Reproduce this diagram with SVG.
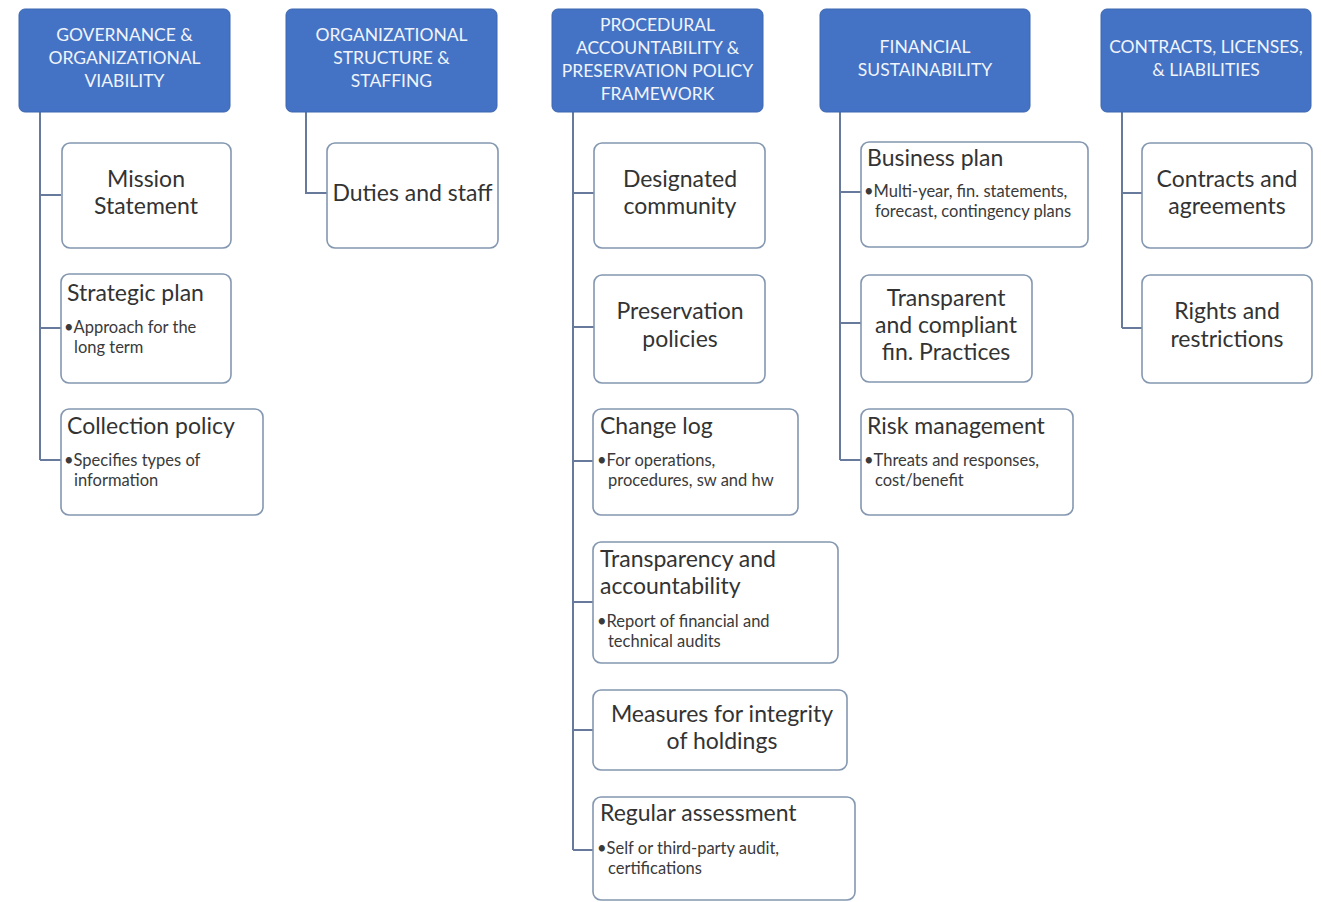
<svg xmlns="http://www.w3.org/2000/svg" width="1322" height="902" viewBox="0 0 1322 902">
<style>
.hdr{fill:#4472C4;stroke:#3d66b0;stroke-width:1}
.box{fill:#fff;stroke:#8497b0;stroke-width:1.6}
.ht{font-family:Lato,"Open Sans",sans-serif;font-size:17.5px;fill:#f0f4fb;text-anchor:middle}
.t{font-family:Lato,"Open Sans",sans-serif;font-size:23px;fill:#333}
.c{text-anchor:middle}
.b{font-family:Lato,"Open Sans",sans-serif;font-size:16.5px;fill:#3a3a3a}
.ln{fill:none;stroke:#687a9c;stroke-width:2}
</style>
<rect width="1322" height="902" fill="#fff"/>
<g id="connectors">
<path class="ln" d="M40 112V460M40 195H61M40 328H61M40 460H61"/>
<path class="ln" d="M306 112V193H327"/>
<path class="ln" d="M573 112V850M573 193H594M573 327H594M573 461H593M573 602H593M573 730H593M573 850H593"/>
<path class="ln" d="M840 112V460M840 192H861M840 323H861M840 460H861"/>
<path class="ln" d="M1122 112V328M1122 193H1142M1122 328H1142"/>
</g>
<g id="h1"><rect class="hdr" x="19" y="9" width="211" height="103" rx="6"/>
<text class="ht" x="124.5" y="41">GOVERNANCE &amp;</text><text class="ht" x="124.5" y="64">ORGANIZATIONAL</text><text class="ht" x="124.5" y="87">VIABILITY</text></g>
<g id="h2"><rect class="hdr" x="286" y="9" width="211" height="103" rx="6"/>
<text class="ht" x="391.5" y="41">ORGANIZATIONAL</text><text class="ht" x="391.5" y="64">STRUCTURE &amp;</text><text class="ht" x="391.5" y="87">STAFFING</text></g>
<g id="h3"><rect class="hdr" x="552" y="9" width="211" height="103" rx="6"/>
<text class="ht" x="657.5" y="31">PROCEDURAL</text><text class="ht" x="657.5" y="54">ACCOUNTABILITY &amp;</text><text class="ht" x="657.5" y="77">PRESERVATION POLICY</text><text class="ht" x="657.5" y="100">FRAMEWORK</text></g>
<g id="h4"><rect class="hdr" x="820" y="9" width="210" height="103" rx="6"/>
<text class="ht" x="925" y="53">FINANCIAL</text><text class="ht" x="925" y="76">SUSTAINABILITY</text></g>
<g id="h5"><rect class="hdr" x="1101" y="9" width="210" height="103" rx="6"/>
<text class="ht" x="1206" y="53">CONTRACTS, LICENSES,</text><text class="ht" x="1206" y="76">&amp; LIABILITIES</text></g>

<g id="mission"><rect class="box" x="62" y="143" width="169" height="105" rx="8"/>
<text class="t c" x="146" y="187">Mission</text><text class="t c" x="146" y="214">Statement</text></g>
<g id="strategic"><rect class="box" x="61" y="274" width="170" height="109" rx="8"/>
<text class="t" x="67" y="301">Strategic plan</text>
<text class="b" x="64" y="333">•Approach for the</text><text class="b" x="74" y="353">long term</text></g>
<g id="collection"><rect class="box" x="61" y="409" width="202" height="106" rx="8"/>
<text class="t" x="67" y="434">Collection policy</text>
<text class="b" x="64" y="466">•Specifies types of</text><text class="b" x="74" y="486">information</text></g>

<g id="duties"><rect class="box" x="327" y="143" width="171" height="105" rx="8"/>
<text class="t c" x="412.5" y="201">Duties and staff</text></g>

<g id="designated"><rect class="box" x="594" y="143" width="171" height="105" rx="8"/>
<text class="t c" x="680" y="187">Designated</text><text class="t c" x="680" y="214">community</text></g>
<g id="preservation"><rect class="box" x="594" y="275" width="171" height="108" rx="8"/>
<text class="t c" x="680" y="319">Preservation</text><text class="t c" x="680" y="347">policies</text></g>
<g id="changelog"><rect class="box" x="593" y="409" width="205" height="106" rx="8"/>
<text class="t" x="600" y="434">Change log</text>
<text class="b" x="597" y="466">•For operations,</text><text class="b" x="608" y="486">procedures, sw and hw</text></g>
<g id="transparency"><rect class="box" x="593" y="542" width="245" height="121" rx="8"/>
<text class="t" x="600" y="567">Transparency and</text><text class="t" x="600" y="594">accountability</text>
<text class="b" x="597" y="627">•Report of financial and</text><text class="b" x="608" y="647">technical audits</text></g>
<g id="measures"><rect class="box" x="593" y="690" width="254" height="80" rx="8"/>
<text class="t c" x="722" y="722">Measures for integrity</text><text class="t c" x="722" y="749">of holdings</text></g>
<g id="regular"><rect class="box" x="593" y="797" width="262" height="103" rx="8"/>
<text class="t" x="600" y="821">Regular assessment</text>
<text class="b" x="597" y="854">•Self or third-party audit,</text><text class="b" x="608" y="874">certifications</text></g>

<g id="business"><rect class="box" x="861" y="142" width="227" height="105" rx="8"/>
<text class="t" x="867" y="166">Business plan</text>
<text class="b" x="864" y="197">•Multi-year, fin. statements,</text><text class="b" x="875" y="217">forecast, contingency plans</text></g>
<g id="transparent"><rect class="box" x="861" y="275" width="171" height="107" rx="8"/>
<text class="t c" x="946" y="306">Transparent</text><text class="t c" x="946" y="333">and compliant</text><text class="t c" x="946" y="360">fin. Practices</text></g>
<g id="risk"><rect class="box" x="861" y="409" width="212" height="106" rx="8"/>
<text class="t" x="867" y="434">Risk management</text>
<text class="b" x="864" y="466">•Threats and responses,</text><text class="b" x="875" y="486">cost/benefit</text></g>

<g id="contracts"><rect class="box" x="1142" y="143" width="170" height="105" rx="8"/>
<text class="t c" x="1227" y="187">Contracts and</text><text class="t c" x="1227" y="214">agreements</text></g>
<g id="rights"><rect class="box" x="1142" y="275" width="170" height="108" rx="8"/>
<text class="t c" x="1227" y="319">Rights and</text><text class="t c" x="1227" y="347">restrictions</text></g>
</svg>
